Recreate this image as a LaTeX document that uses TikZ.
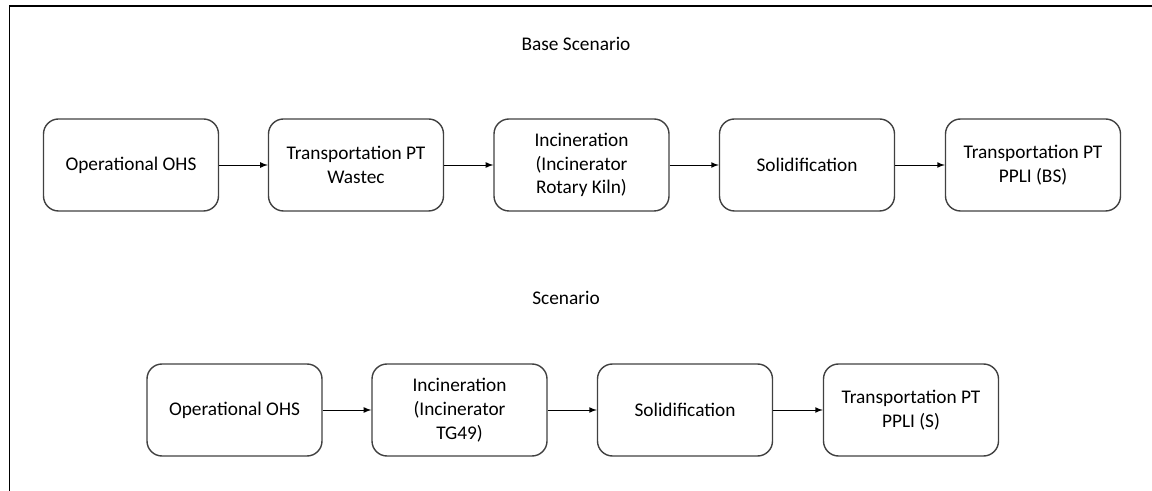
\documentclass[tikz,border=0pt]{standalone}
\usepackage{fontspec}
\setmainfont{Carlito}
\usetikzlibrary{positioning}

\begin{document}
\begin{tikzpicture}[font=\fontsize{11}{13.5}\selectfont]
          \useasboundingbox (0, 0) rectangle (23.04, 9.82);
          \draw[line width=0.8pt] (0.19, 0) -- (0.19, 9.70) -- (23.04, 9.70);
          \node (title1) at (11.52, 8.94) {Base Scenario};
          \begin{scope}[every node/.style={rectangle, rounded corners=0.3cm, draw=black!75, line width=0.8pt, minimum width=3.5cm, minimum height=1.84cm, align=center}]
            \node (b1) at (2.62, 6.52) {Operational OHS};
            \node (b2) at (7.12, 6.52) {Transportation PT\\Wastec};
            \node (b3) at (11.63, 6.52) {Incineration\\(Incinerator\\Rotary Kiln)};
            \node (b4) at (16.14, 6.52) {Solidification};
            \node (b5) at (20.66, 6.52) {Transportation PT\\PPLI (BS)};
          \end{scope}
          \begin{scope}[line width=0.5pt]
            \path[-latex] (b1) edge (b2);
            \path[-latex] (b2) edge (b3);
            \path[-latex] (b3) edge (b4);
            \path[-latex] (b4) edge (b5);
          \end{scope}
          \node (title2) at (11.32, 3.86) {Scenario};
          \begin{scope}[every node/.style={rectangle, rounded corners=0.3cm, draw=black!75, line width=0.8pt, minimum width=3.5cm, minimum height=1.84cm, align=center}]
            \node (s1) at (4.69, 1.62) {Operational OHS};
            \node (s2) at (9.19, 1.62) {Incineration\\(Incinerator\\TG49)};
            \node (s3) at (13.70, 1.62) {Solidification};
            \node (s4) at (18.22, 1.62) {Transportation PT\\PPLI (S)};
          \end{scope}
          \begin{scope}[line width=0.5pt]
            \path[-latex] (s1) edge (s2);
            \path[-latex] (s2) edge (s3);
            \path[-latex] (s3) edge (s4);
          \end{scope}
        \end{tikzpicture}
\end{document}
